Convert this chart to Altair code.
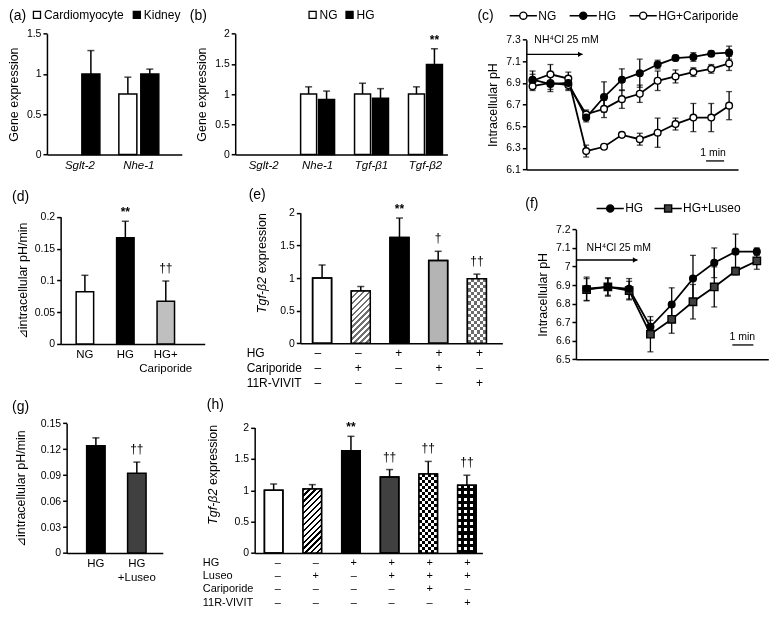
import altair as alt
import pandas as pd

# =========================== data ===========================
# (a) gene expression: cardiomyocyte vs kidney
a_genes = ["Sglt-2", "Nhe-1"]
a_tissues = ["Cardiomyocyte", "Kidney"]
a_gene = ["Sglt-2", "Nhe-1", "Nhe-1"]
a_tissue = ["Kidney", "Cardiomyocyte", "Kidney"]
a_value = [1.00, 0.75, 1.00]
a_err = [0.29, 0.21, 0.06]

# (b) gene expression NG vs HG
b_genes = ["Sglt-2", "Nhe-1", "Tgf-β1", "Tgf-β2"]
b_groups = ["NG", "HG"]
b_gene = ["Nhe-1", "Nhe-1", "Tgf-β1", "Tgf-β1", "Tgf-β2", "Tgf-β2"]
b_group = ["NG", "HG", "NG", "HG", "NG", "HG"]
b_value = [1.00, 0.91, 1.00, 0.93, 1.00, 1.49]
b_err = [0.12, 0.14, 0.18, 0.16, 0.12, 0.26]
b_sig = ["", "", "", "", "", "**"]

# (c) intracellular pH recovery
c_series = ["NG", "HG", "HG+Cariporide"]
c_time = list(range(12))
c_ng = [6.87, 6.90, 6.88, 6.61, 6.66, 6.75, 6.80, 6.92, 6.96, 7.00, 7.03, 7.08]
c_ng_err = [0.04, 0.06, 0.05, 0.04, 0.08, 0.085, 0.08, 0.09, 0.06, 0.04, 0.04, 0.065]
c_hg = [6.93, 6.89, 6.90, 6.58, 6.77, 6.93, 6.99, 7.07, 7.13, 7.14, 7.17, 7.18]
c_hg_err = [0.08, 0.07, 0.06, 0.04, 0.14, 0.10, 0.13, 0.04, 0.025, 0.04, 0.025, 0.06]
c_ca = [6.92, 6.98, 6.94, 6.27, 6.31, 6.42, 6.38, 6.44, 6.52, 6.58, 6.58, 6.69]
c_ca_err = [0.06, 0.09, 0.06, 0.055, 0.02, 0.02, 0.055, 0.135, 0.055, 0.13, 0.13, 0.13]

# (d) delta intracellular pH / min
d_groups = ["NG", "HG", "HG+Cariporide"]
d_value = [0.082, 0.167, 0.067]
d_err = [0.026, 0.026, 0.032]
d_sig = ["", "**", "††"]

# (e) Tgf-beta2 expression
e_conds = ["Control", "Cariporide", "HG", "HG+Cariporide", "HG+11R-VIVIT"]
e_value = [1.00, 0.80, 1.62, 1.27, 0.99]
e_err = [0.20, 0.07, 0.30, 0.14, 0.07]
e_sig = ["", "", "**", "†", "††"]
e_rows = ["HG", "Cariporide", "11R-VIVIT"]
e_hg = ["–", "–", "+", "+", "+"]
e_cari = ["–", "+", "–", "+", "–"]
e_vivit = ["–", "–", "–", "–", "+"]

# (f) intracellular pH with luseogliflozin
f_series = ["HG", "HG+Luseo"]
f_time = list(range(9))
f_hg = [6.88, 6.89, 6.88, 6.675, 6.795, 6.935, 7.02, 7.08, 7.08]
f_hg_err = [0.063, 0.05, 0.055, 0.035, 0.09, 0.125, 0.08, 0.095, 0.02]
f_lu = [6.875, 6.89, 6.87, 6.635, 6.715, 6.81, 6.89, 6.975, 7.03]
f_lu_err = [0.06, 0.045, 0.05, 0.095, 0.075, 0.093, 0.108, 0.02, 0.045]

# (g) delta intracellular pH / min
g_groups = ["HG", "HG+Luseo"]
g_value = [0.124, 0.092]
g_err = [0.009, 0.013]
g_sig = ["", "††"]

# (h) Tgf-beta2 expression
h_conds = ["Control", "Luseo", "HG", "HG+Luseo", "HG+Luseo+Cariporide", "HG+Luseo+11R-VIVIT"]
h_value = [1.00, 1.02, 1.63, 1.21, 1.26, 1.08]
h_err = [0.10, 0.07, 0.23, 0.12, 0.20, 0.16]
h_sig = ["", "", "**", "††", "††", "††"]
h_rows = ["HG", "Luseo", "Cariporide", "11R-VIVIT"]
h_hg = ["–", "–", "+", "+", "+", "+"]
h_luseo = ["–", "+", "–", "+", "+", "+"]
h_cari = ["–", "–", "–", "–", "+", "–"]
h_vivit = ["–", "–", "–", "–", "–", "+"]

# =========================== layout & style ===========================
OFF = 8                      # page margin: chart pixel = reference pixel - OFF
W, H = 762, 604
FONT = "Liberation Sans"
INK = "#000000"
ONE = alt.Data(values=[{}])


def px(v):
    return v - OFF


def band(domain, r0, r1, c0, step, bw):
    n = len(domain)
    pi = 1 - bw / step
    R = r1 - r0
    po = max(0.0, (R / step - n + pi) / 2)
    st = R / max(1.0, n - pi + 2 * po)
    extra = R - st * (n - pi)
    a = 0.5 if extra <= 1e-6 else min(1.0, max(0.0, (c0 - st * (1 - pi) / 2 - r0) / extra))
    return alt.Scale(domain=domain, range=[px(r0), px(r1)], paddingInner=pi,
                     paddingOuter=po, align=a)


def lin(domain, p0, p1):
    return alt.Scale(domain=domain, range=[px(p0), px(p1)], nice=False, zero=False)


def y_axis(x_ref, values, title, fmt="~g", tpad=6):
    return alt.Axis(orient="left", offset=-px(x_ref), values=values, format=fmt,
                    title=title, grid=False, ticks=True, tickSize=4, labelPadding=2,
                    titlePadding=tpad)


def x_axis(y_ref, labels=False, italic=False, expr=None):
    kw = dict(orient="bottom", offset=px(y_ref) - H, title=None, grid=False, ticks=False,
              labels=labels, labelAngle=0, labelPadding=5, labelOverlap=False,
              labelFontSize=11.5, labelLineHeight=14)
    if italic:
        kw["labelFontStyle"] = "italic"
    if expr:
        kw["labelExpr"] = expr
    return alt.Axis(**kw)


def bar_frame(cat, val, err, sig, grp=None):
    df = pd.DataFrame({"cat": cat, "v": val, "err": err, "sig": sig})
    if grp is not None:
        df["grp"] = grp
    df["top"] = df["v"] + df["err"]
    return df


def bar_layers(df, X, Y, xax, yax, fill, xo=None, extra=()):
    def enc(yfield, **kw):
        e = {"x": alt.X("cat:N", scale=X, axis=xax), "y": alt.Y(yfield, scale=Y, axis=yax)}
        if xo is not None:
            e["xOffset"] = xo
        e.update(kw)
        return e
    ch = alt.Chart(df)
    base = ch.mark_bar(stroke=INK, strokeWidth=1.5).encode(**enc("v:Q", fill=fill))
    rule = ch.mark_rule(color=INK, strokeWidth=1.5).encode(**enc("v:Q", y2=alt.Y2("top:Q")))
    cap = ch.mark_tick(orient="horizontal", color=INK, size=7, thickness=1.5).encode(**enc("top:Q"))
    stars = ch.transform_filter("datum.sig == '**'").mark_text(
        fontSize=12, fontWeight="bold", baseline="alphabetic", dy=-5, color=INK).encode(
        **enc("top:Q", text="sig:N"))
    daggers = ch.transform_filter("indexof(datum.sig, '†') >= 0").mark_text(
        fontSize=12, baseline="alphabetic", dy=-9, color=INK).encode(**enc("top:Q", text="sig:N"))
    layers = [base]
    for cat, fillv, blend, opacity in extra:
        kw = {"fill": fillv}
        if blend:
            kw["blend"] = blend
        if opacity is not None:
            kw["fillOpacity"] = opacity
        layers.append(ch.transform_filter(alt.datum.cat == cat).mark_bar(**kw).encode(**enc("v:Q")))
    if extra:
        layers.append(ch.mark_bar(fillOpacity=0, stroke=INK, strokeWidth=1.5).encode(**enc("v:Q")))
    return layers + [rule, cap, stars, daggers]


def diag(w, h, period, c_line, c_bg, frac):
    c = (w + h) * w * h / (w * w + h * h)
    n = max(1, round((w + h) / period))
    stops = []
    for k in range(n):
        t0, tm, t1 = k / n, (k + frac) / n, (k + 1) / n
        stops += [{"offset": t0, "color": c_line}, {"offset": tm, "color": c_line},
                  {"offset": tm, "color": c_bg}, {"offset": t1, "color": c_bg}]
    return {"gradient": "linear", "x1": 0, "y1": 0, "x2": c / h, "y2": c / w, "stops": stops}


def stripes(n, along_y, c1, c2):
    stops = []
    for k in range(n):
        col = c1 if k % 2 == 0 else c2
        stops += [{"offset": k / n, "color": col}, {"offset": (k + 1) / n, "color": col}]
    if along_y:
        return {"gradient": "linear", "x1": 0, "y1": 0, "x2": 0, "y2": 1, "stops": stops}
    return {"gradient": "linear", "x1": 0, "y1": 0, "x2": 1, "y2": 0, "stops": stops}


def series_frame(series, time, values, errs):
    rows = []
    for s, vs, es in zip(series, values, errs):
        for t, v, e in zip(time, vs, es):
            rows.append({"series": s, "t": t, "v": v, "lo": v - e, "hi": v + e})
    return pd.DataFrame(rows)


def line_layers(df, X, Y, xax, yax, styles, series, fills, paths, legend):
    ch = alt.Chart(df)
    xe = alt.X("t:Q", scale=X, axis=xax)

    def ye(f):
        return alt.Y(f, scale=Y, axis=yax)
    line = ch.mark_line(color=INK, strokeWidth=1.8).encode(x=xe, y=ye("v:Q"), detail="series:N")
    rule = ch.mark_rule(color=INK, strokeWidth=1.3).encode(x=xe, y=ye("lo:Q"), y2=alt.Y2("hi:Q"))
    caps = [ch.mark_tick(orient="horizontal", color=INK, size=6, thickness=1.3).encode(
        x=xe, y=ye(f)) for f in ("lo:Q", "hi:Q")]
    pts = [ch.transform_filter(alt.datum.series == s).mark_point(
        shape=shape, size=size, filled=True, fill=fill, stroke=INK, strokeWidth=1.4, opacity=1).encode(
        x=xe, y=ye("v:Q")) for s, shape, size, fill in styles]
    leg = alt.Chart(pd.DataFrame({"series": series})).transform_filter("false").mark_point(
        filled=True, strokeWidth=1.4, opacity=1).encode(
        shape=alt.Shape("series:N", scale=alt.Scale(domain=series, range=paths), legend=legend),
        fill=alt.Fill("series:N", scale=alt.Scale(domain=series, range=fills), legend=legend),
        stroke=alt.Stroke("series:N", scale=alt.Scale(domain=series, range=[INK] * len(series)),
                          legend=legend))
    return [line, rule] + caps + pts + [leg]


def annot_layers(xax, yax, arrow, text_xy, minute_xy, bar):
    (ax0, ax1, ay) = arrow
    return [
        alt.Chart(ONE).mark_rule(color=INK, strokeWidth=1.3).encode(
            x=alt.XDatum(ax0, axis=xax), x2=alt.X2Datum(ax1), y=alt.YDatum(ay, axis=yax)),
        alt.Chart(ONE).mark_point(shape=ARROW_HEAD, size=50, filled=True, color=INK,
                                  opacity=1).encode(
            x=alt.XDatum(ax1, axis=xax), y=alt.YDatum(ay, axis=yax)),
        alt.Chart(ONE).mark_text(align="left", baseline="middle", fontSize=10.5, color=INK).encode(
            x=alt.XDatum(text_xy[0], axis=xax), y=alt.YDatum(text_xy[1], axis=yax),
            text=alt.value("NH⁴Cl 25 mM")),
        alt.Chart(ONE).mark_text(baseline="middle", fontSize=10.5, color=INK).encode(
            x=alt.XDatum(minute_xy[0], axis=xax), y=alt.YDatum(minute_xy[1], axis=yax),
            text=alt.value("1 min")),
        alt.Chart(ONE).mark_rule(color=INK, strokeWidth=1.3).encode(
            x=alt.XDatum(bar[0], axis=xax), x2=alt.X2Datum(bar[1]), y=alt.YDatum(bar[2], axis=yax)),
    ]


def table_layers(conds, rows, signs, X, y_top, y_bot, x_label, size=12):
    recs = [{"cat": c, "row": r, "sign": s} for r, ss in zip(rows, signs) for c, s in zip(conds, ss)]
    Yr = alt.Scale(type="point", domain=rows, range=[px(y_top), px(y_bot)], padding=0)
    signs_l = alt.Chart(pd.DataFrame(recs)).mark_text(fontSize=size, color=INK).encode(
        x=alt.X("cat:N", scale=X, axis=None), y=alt.Y("row:N", scale=Yr, axis=None), text="sign:N")
    names = alt.Chart(pd.DataFrame({"row": rows})).mark_text(
        fontSize=size, align="left", color=INK).encode(
        x=alt.value(px(x_label)), y=alt.Y("row:N", scale=Yr, axis=None), text="row:N")
    return alt.layer(signs_l, names)


def text_at(t, x, y, **kw):
    return alt.Chart(ONE).mark_text(color=INK, **kw).encode(
        x=alt.value(px(x)), y=alt.value(px(y)), text=alt.value(t))


def tgf_title(xc, yc, size=12.5):
    w1 = 2.909 * size
    gap = 0.278 * size
    total = w1 + gap + 4.835 * size
    y0 = yc + total / 2
    return [text_at("Tgf-β2", xc, y0, angle=270, align="left", baseline="middle",
                    fontStyle="italic", fontSize=size),
            text_at("expression", xc, y0 - w1 - gap, angle=270, align="left",
                    baseline="middle", fontSize=size)]


def bar_legend(x, y):
    return alt.Legend(orient="none", legendX=px(x), legendY=px(y), direction="horizontal",
                      title=None, symbolType="square", symbolSize=50, symbolStrokeColor=INK,
                      symbolStrokeWidth=1.3, labelOffset=1, columnPadding=5, labelFontSize=12)


def line_legend(x, y, gap):
    return alt.Legend(orient="none", legendX=px(x), legendY=px(y), direction="horizontal",
                      title=None, symbolSize=140, symbolStrokeWidth=1.4,
                      labelOffset=8, columnPadding=gap, labelFontSize=12)


LINE_CIRCLE = "M-2.3,0H-0.6M0.6,0H2.3M0.6,0A0.6,0.6,0,1,1,-0.6,0A0.6,0.6,0,1,1,0.6,0Z"
LINE_SQUARE = "M-2.3,0H-0.6M0.6,0H2.3M-0.6,-0.6H0.6V0.6H-0.6Z"
ARROW_HEAD = "M-1.3,-0.75L0,0L-1.3,0.75Z"

# ----------------------------- (a) -----------------------------
A_X = band(a_genes, 47, 182, 80, 59, 40)
A_Y = lin([0, 1.5], 154.3, 33.3)
a_df = bar_frame(a_gene, a_value, a_err, [""] * 3, a_tissue)
panel_a = alt.layer(*bar_layers(
    a_df, A_X, A_Y, x_axis(154.3, labels=True, italic=True),
    y_axis(47, [0, 0.5, 1, 1.5], "Gene expression"),
    alt.Fill("grp:N", scale=alt.Scale(domain=a_tissues, range=["#ffffff", "#000000"]),
             legend=bar_legend(31, 8)),
    xo=alt.XOffset("grp:N", scale=alt.Scale(domain=a_tissues, paddingInner=0.18, paddingOuter=0))))

# ----------------------------- (b) -----------------------------
B_X = band(b_genes, 235.5, 448, 264, 54, 34)
B_Y = lin([0, 2], 154.3, 33.3)
b_df = bar_frame(b_gene, b_value, b_err, b_sig, b_group)
panel_b = alt.layer(*bar_layers(
    b_df, B_X, B_Y, x_axis(154.3, labels=True, italic=True),
    y_axis(235.5, [0, 0.5, 1, 1.5, 2], "Gene expression"),
    alt.Fill("grp:N", scale=alt.Scale(domain=b_groups, range=["#ffffff", "#000000"]),
             legend=bar_legend(307, 8)),
    xo=alt.XOffset("grp:N", scale=alt.Scale(domain=b_groups, paddingInner=0.11, paddingOuter=0))))

# ----------------------------- (c) -----------------------------
C_X = alt.Scale(domain=[-0.35, 11.5], range=[px(527), px(739)], nice=False, zero=False)
C_Y = lin([6.1, 7.3], 169.3, 39.3)
C_XAX = x_axis(169.3)
C_YAX = y_axis(527, [6.1, 6.3, 6.5, 6.7, 6.9, 7.1, 7.3], "Intracellular pH", ".1f")
c_df = series_frame(c_series, c_time, [c_ng, c_hg, c_ca], [c_ng_err, c_hg_err, c_ca_err])
c_layers = line_layers(
    c_df, C_X, C_Y, C_XAX, C_YAX,
    [("HG+Cariporide", "circle", 45, "#ffffff"), ("NG", "circle", 45, "#ffffff"),
     ("HG", "circle", 45, "#000000")],
    c_series, ["#ffffff", "#000000", "#ffffff"], [LINE_CIRCLE] * 3, line_legend(517, 8, 10))
panel_c = alt.layer(*(c_layers + annot_layers(
    C_XAX, C_YAX, (-0.35, 2.8, 7.164), (0.1, 7.30), (10.1, 6.248), (9.71, 10.72, 6.179))))

# ----------------------------- (d) -----------------------------
D_X = band(d_groups, 60.7, 205, 85, 40.5, 17.5)
D_Y = lin([0, 0.2], 344, 216.7)
d_df = bar_frame(d_groups, d_value, d_err, d_sig)
panel_d = alt.layer(*bar_layers(
    d_df, D_X, D_Y,
    x_axis(344, labels=True, expr="datum.value == 'HG+Cariporide' ? ['HG+', 'Cariporide'] : datum.label"),
    y_axis(60.7, [0, 0.05, 0.1, 0.15, 0.2], "⊿intracellular pH/min", tpad=5),
    alt.Fill("cat:N", scale=alt.Scale(domain=d_groups, range=["#ffffff", "#000000", "#bfbfbf"]),
             legend=None)))

# ----------------------------- (e) -----------------------------
E_BW, E_PPU = 19, (343.3 - 212.7) / 2
E_X = band(e_conds, 300.7, 503, 322.5, 38.75, E_BW)
E_Y = lin([0, 2], 343.3, 212.7)
e_df = bar_frame(e_conds, e_value, e_err, e_sig)
e_h2 = e_value[1] * E_PPU
e_h5 = e_value[4] * E_PPU
e_extra = [
    ("Cariporide", diag(E_BW, e_h2, 6, "#707070", "#ffffff", 0.42), None, None),
    ("HG+11R-VIVIT", stripes(6, False, "#ffffff", "#000000"), None, None),
    ("HG+11R-VIVIT", stripes(round(e_h5 / 3.2), True, "#000000", "#ffffff"), "difference", None),
    ("HG+11R-VIVIT", "#ffffff", None, 0.42),
]
panel_e = alt.layer(*bar_layers(
    e_df, E_X, E_Y, x_axis(343.3), y_axis(300.7, [0, 0.5, 1, 1.5, 2], None),
    alt.Fill("cat:N", scale=alt.Scale(domain=e_conds,
                                      range=["#ffffff", "#ffffff", "#000000", "#b4b4b4", "#ffffff"]),
             legend=None), extra=e_extra))
table_e = table_layers(e_conds, e_rows, [e_hg, e_cari, e_vivit], E_X, 353, 383, 247)

# ----------------------------- (f) -----------------------------
F_X = alt.Scale(domain=[-0.5, 8.54], range=[px(576.7), px(769.3)], nice=False, zero=False)
F_Y = lin([6.5, 7.2], 359.3, 229.3)
F_XAX = x_axis(359.3)
F_YAX = y_axis(576.7, [6.5, 6.6, 6.7, 6.8, 6.9, 7.0, 7.1, 7.2], "Intracellular pH")
f_df = series_frame(f_series, f_time, [f_hg, f_lu], [f_hg_err, f_lu_err])
f_layers = line_layers(
    f_df, F_X, F_Y, F_XAX, F_YAX,
    [("HG+Luseo", "square", 55, "#404040"), ("HG", "circle", 45, "#000000")],
    f_series, ["#000000", "#404040"], [LINE_CIRCLE, LINE_SQUARE], line_legend(604, 201, 8))
panel_f = alt.layer(*(f_layers + annot_layers(
    F_XAX, F_YAX, (-0.5, 2.39, 7.035), (0.0, 7.101), (7.32, 6.622), (6.85, 7.84, 6.577))))

# ----------------------------- (g) -----------------------------
G_X = band(g_groups, 66.7, 163, 96, 41, 18.5)
G_Y = lin([0, 0.15], 553.3, 423.3)
g_df = bar_frame(g_groups, g_value, g_err, g_sig)
panel_g = alt.layer(*bar_layers(
    g_df, G_X, G_Y,
    x_axis(553.3, labels=True, expr="datum.value == 'HG+Luseo' ? ['HG', '+Luseo'] : datum.label"),
    y_axis(66.7, [0, 0.03, 0.06, 0.09, 0.12, 0.15], "⊿intracellular pH/min", tpad=13),
    alt.Fill("cat:N", scale=alt.Scale(domain=g_groups, range=["#000000", "#404040"]), legend=None)))

# ----------------------------- (h) -----------------------------
H_BW, H_PPU = 18.5, (553.3 - 427.7) / 2
H_X = band(h_conds, 255, 483, 274, 38.7, H_BW)
H_Y = lin([0, 2], 553.3, 427.7)
h_df = bar_frame(h_conds, h_value, h_err, h_sig)
h_h2 = h_value[1] * H_PPU
h_h5 = h_value[4] * H_PPU
h_h6 = h_value[5] * H_PPU
h_extra = [
    ("Luseo", diag(H_BW, h_h2, 6, "#000000", "#ffffff", 0.38), None, None),
    ("HG+Luseo+Cariporide", stripes(6, False, "#ffffff", "#000000"), None, None),
    ("HG+Luseo+Cariporide", stripes(round(h_h5 / 3.1), True, "#000000", "#ffffff"),
     "difference", None),
    ("HG+Luseo+11R-VIVIT", stripes(6, False, "#ffffff", "#000000"), None, None),
    ("HG+Luseo+11R-VIVIT", stripes(round(h_h6 / 3.1), True, "#ffffff", "#000000"),
     "multiply", None),
]
panel_h = alt.layer(*bar_layers(
    h_df, H_X, H_Y, x_axis(553.3), y_axis(255, [0, 0.5, 1, 1.5, 2], None),
    alt.Fill("cat:N", scale=alt.Scale(domain=h_conds,
                                      range=["#ffffff", "#ffffff", "#000000", "#404040",
                                             "#ffffff", "#000000"]),
             legend=None), extra=h_extra))
table_h = table_layers(h_conds, h_rows, [h_hg, h_luseo, h_cari, h_vivit], H_X, 563, 603, 203,
                       size=11)

# ----------------------------- labels -----------------------------
panel_tags = [("(a)", 9, 16), ("(b)", 190, 16), ("(c)", 478, 16), ("(d)", 12, 197),
              ("(e)", 249, 195), ("(f)", 526, 204), ("(g)", 12, 407), ("(h)", 207, 405)]
tags = [text_at(t, x, y, fontSize=14, baseline="middle", align="left") for t, x, y in panel_tags]
titles = tgf_title(262, 263) + tgf_title(213, 475)

chart = alt.layer(
    panel_a, panel_b, panel_c, panel_d, panel_e, table_e, panel_f, panel_g, panel_h, table_h,
    *tags, *titles
).resolve_scale(
    x="independent", y="independent", xOffset="independent", fill="independent",
    shape="independent", stroke="independent"
).resolve_axis(
    x="independent", y="independent"
).resolve_legend(
    fill="independent", shape="independent", stroke="independent"
).properties(
    width=W, height=H, padding=0, autosize=alt.AutoSizeParams(type="none")
).configure(
    font=FONT
).configure_view(
    stroke=None
).configure_axis(
    domainColor=INK, domainWidth=1.5, tickColor=INK, tickWidth=1.5, labelColor=INK,
    labelFont=FONT, labelFontSize=10.5, titleFont=FONT, titleFontSize=12.5,
    titleFontWeight="normal", titleColor=INK, grid=False
).configure_legend(
    labelFont=FONT, labelColor=INK, labelFontSize=12
)

chart.save("out.html", embed_options={"renderer": "svg", "actions": False})
